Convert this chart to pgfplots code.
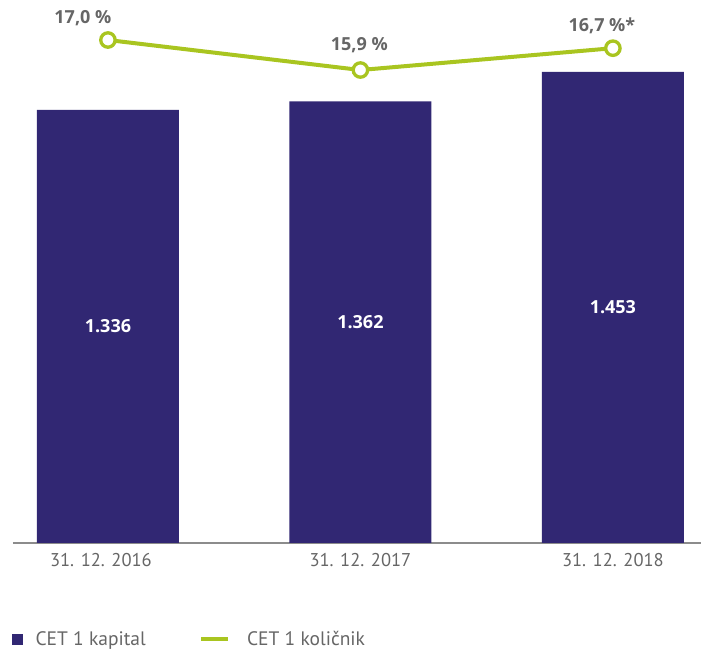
\documentclass[border=0pt]{standalone}
\usepackage{fontspec}
\setmainfont{Open Sans}
\newfontfamily\cond{PT Sans}
\usepackage{pgfplots}
\pgfplotsset{compat=1.18}
\definecolor{navy}{HTML}{312773}
\definecolor{lime}{HTML}{A9C520}
\definecolor{txtgray}{HTML}{666666}
\definecolor{axgray}{HTML}{8C8C8C}
\begin{document}
\begin{tikzpicture}[x=1pt,y=1pt]
\useasboundingbox (0,0) rectangle (701,650);
\begin{axis}[
  at={(13pt,107pt)}, anchor=south west,
  scale only axis, width=688pt, height=543pt,
  xmin=-0.376, xmax=2.349, ymin=0, ymax=1675,
  axis x line*=bottom, axis y line=none,
  x axis line style={axgray, line width=1.5pt, -},
  xtick={0,1,2},
  xticklabels={\hspace*{-14pt}31. 12. 2016, 31. 12. 2017, 31. 12. 2018},
  major tick length=0pt,
  xticklabel style={font=\cond\fontsize{18.5}{21}\selectfont, text=txtgray, yshift=-7pt},
  ybar, bar width=142pt,
  clip=false,
]
\addplot[fill=navy, draw=none] coordinates {(0,1336) (1,1362) (2,1453)};
\node[text=white, font=\bfseries\fontsize{18}{21}\selectfont] at (axis cs:0,668) {1.336};
\node[text=white, font=\bfseries\fontsize{18}{21}\selectfont] at (axis cs:1,681) {1.362};
\node[text=white, font=\bfseries\fontsize{18}{21}\selectfont] at (axis cs:2,726.5) {1.453};
\end{axis}
\begin{axis}[
  at={(13pt,107pt)}, anchor=south west,
  scale only axis, width=688pt, height=543pt,
  xmin=-0.376, xmax=2.349, ymin=-1.44, ymax=18.467,
  hide axis, clip=false,
  legend columns=2,
  legend style={at={(-0.00145,-0.1765)}, anchor=west, draw=none, fill=none, inner sep=0pt,
    font=\cond\fontsize{19.5}{22}\selectfont, text=txtgray,
    nodes={inner sep=0pt},
    /tikz/every even column/.style={column sep=53pt},
    /tikz/every odd column/.style={column sep=0pt}},
]
\addlegendimage{legend image code/.code={\fill[navy] (0pt,-5pt) rectangle (10pt,5pt); \path (23pt,0pt);}}
\addlegendentry{CET 1 kapital}
\addplot[lime, line width=4pt, mark=*, mark size=7.2pt,
  mark options={fill=white, draw=lime, line width=3.3pt},
  legend image code/.code={\draw[lime, line width=4.5pt] (0pt,0pt) -- (27pt,0pt); \path (44pt,0pt);}]
  coordinates {(0,17.0) (1,15.9) (2,16.7)};
\addlegendentry{CET 1 količnik}
\node[text=txtgray, font=\bfseries\fontsize{18}{21}\selectfont, xshift=-25pt, yshift=22pt] at (axis cs:0,17.0) {17,0 \%};
\node[text=txtgray, font=\bfseries\fontsize{18}{21}\selectfont, xshift=-1pt, yshift=25pt] at (axis cs:1,15.9) {15,9 \%};
\node[text=txtgray, font=\bfseries\fontsize{18}{21}\selectfont, xshift=-11pt, yshift=22pt] at (axis cs:2,16.7) {16,7 \%*};
\end{axis}
\end{tikzpicture}
\end{document}
